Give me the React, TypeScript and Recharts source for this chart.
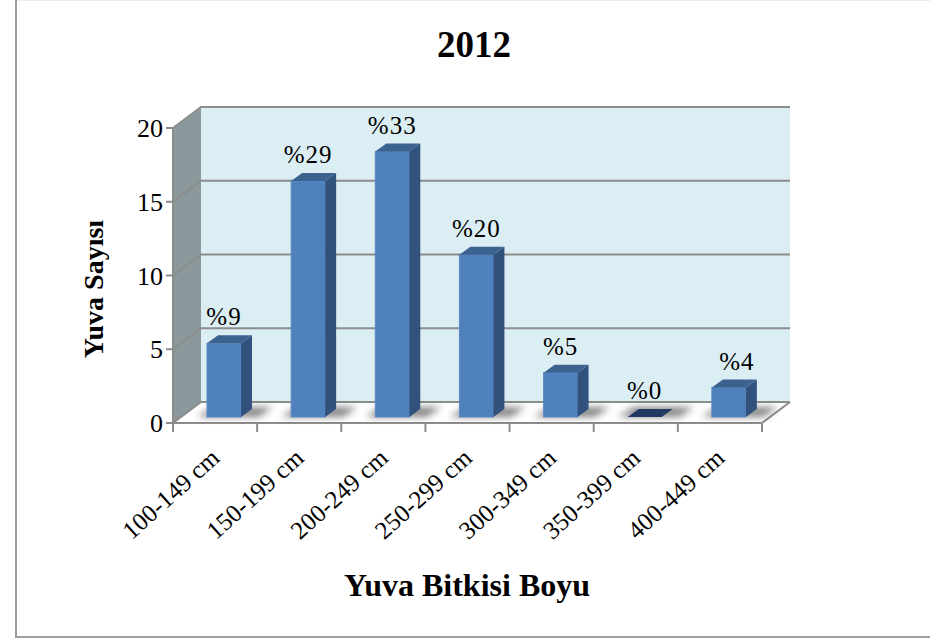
import {
  Bar,
  BarChart,
  CartesianGrid,
  LabelList,
  XAxis,
  YAxis,
  usePlotArea,
} from "recharts";

const categories = [
  "100-149 cm",
  "150-199 cm",
  "200-249 cm",
  "250-299 cm",
  "300-349 cm",
  "350-399 cm",
  "400-449 cm",
];
const counts = [5, 16, 18, 11, 3, 0, 2];
const percentLabels = ["%9", "%29", "%33", "%20", "%5", "%0", "%4"];
const yTicks = [0, 5, 10, 15, 20];

const data = categories.map((name, i) => ({
  name,
  count: counts[i],
  label: percentLabels[i],
}));

const FONT = "'Liberation Serif', 'Times New Roman', serif";
// kutunun derinligi: on duzlemden arka duvara kayma
const WALL_DX = 28;
const WALL_DY = -21;
const GRID = "#8c8c8c";
const MARGIN = { top: 128, right: 168, bottom: 217, left: 173 };

function Walls() {
  const plot = usePlotArea();
  if (!plot) return null;
  const { x, y, width, height } = plot;
  const bottom = y + height;
  const right = x + width;
  const pts = (p: number[][]) => p.map((q) => q.join(",")).join(" ");
  return (
    <g>
      <defs>
        <filter id="floorShadow" x="-40%" y="-100%" width="180%" height="300%">
          <feGaussianBlur stdDeviation="3.5" />
        </filter>
      </defs>
      <polygon
        points={pts([
          [x + WALL_DX, y + WALL_DY],
          [right + WALL_DX, y + WALL_DY],
          [right + WALL_DX, bottom + WALL_DY],
          [x + WALL_DX, bottom + WALL_DY],
        ])}
        fill="#dbeef4"
      />
      <polygon
        points={pts([
          [x, y],
          [x + WALL_DX, y + WALL_DY],
          [x + WALL_DX, bottom + WALL_DY],
          [x, bottom],
        ])}
        fill="#8c999c"
      />
      <polygon
        points={pts([
          [x, bottom],
          [x + WALL_DX, bottom + WALL_DY],
          [right + WALL_DX, bottom + WALL_DY],
          [right, bottom],
        ])}
        fill="#ffffff"
      />
      <polyline
        points={pts([
          [x, bottom],
          [right, bottom],
          [right + WALL_DX, bottom + WALL_DY],
        ])}
        fill="none"
        stroke={GRID}
        strokeWidth={2}
      />
    </g>
  );
}

function gridLine(props: any) {
  const { x1, y1, x2, y2, key } = props;
  return (
    <polyline
      key={key ?? y1}
      points={`${x1},${y1} ${x1 + WALL_DX},${y1 + WALL_DY} ${x2 + WALL_DX},${y2 + WALL_DY}`}
      fill="none"
      stroke={GRID}
      strokeWidth={2}
    />
  );
}

function Bar3D(props: any) {
  const { x, y, width, height } = props;
  // cubuklar on duzlemden biraz iceride duruyor
  const fx = x + 9;
  const base = y + height - 6;
  const top = base - height;
  const r = fx + width;
  const dx = 11;
  const dy = -8;
  return (
    <g>
      <polygon
        points={`${fx - 10},${base} ${r + 18},${base} ${r + 32},${base - 10} ${fx + 6},${base - 10}`}
        fill="#555"
        opacity={0.7}
        filter="url(#floorShadow)"
      />
      {height > 0 && (
        <>
          <rect x={fx} y={top} width={width} height={height} fill="#4f81bd" stroke="#5b8ac4" strokeWidth={1} />
          <polygon
            points={`${r},${top} ${r + dx},${top + dy} ${r + dx},${base + dy} ${r},${base}`}
            fill="#30527c"
          />
        </>
      )}
      <polygon
        points={`${fx},${top} ${fx + dx},${top + dy} ${r + dx},${top + dy} ${r},${top}`}
        fill={height > 0 ? "#3c6390" : "#1f3a63"}
      />
    </g>
  );
}

function PercentLabel(props: any) {
  const { x, y, width, value, index } = props;
  // son etiket orijinalde elle saga kaydirilmis
  const nudge = index === percentLabels.length - 1 ? 8 : 0;
  return (
    <text
      x={x + width / 2 + 9 + nudge}
      y={y - 24}
      textAnchor="middle"
      fontFamily={FONT}
      fontSize={25}
      letterSpacing={1}
      fill="#000"
    >
      {value}
    </text>
  );
}

function SlantTick(props: any) {
  const { x, y, payload, width, visibleTicksCount, index } = props;
  // tick cizgileri kategori sinirlarinda, etiket ortada
  const band = width / visibleTicksCount;
  const edges = index === visibleTicksCount - 1 ? [x - band / 2, x + band / 2] : [x - band / 2];
  const tx = x + 6;
  const ty = y + 28;
  return (
    <g>
      {edges.map((ex) => (
        <line key={ex} x1={ex} y1={y - 8} x2={ex} y2={y} stroke={GRID} strokeWidth={2} />
      ))}
      <text
        x={tx}
        y={ty}
        textAnchor="end"
        fontFamily={FONT}
        fontSize={25}
        fill="#000"
        transform={`rotate(-42 ${tx} ${ty})`}
      >
        {payload.value}
      </text>
    </g>
  );
}

export default function App() {
  return (
    <div style={{ position: "absolute", left: 0, top: 0, width: 930, height: 640, background: "#fff" }}>
      <div style={{ position: "absolute", left: 16, top: 0, width: 914, height: 1, background: "#ececec" }} />
      <div style={{ position: "absolute", left: 15, top: 0, width: 2, height: 638, background: "#9c9c9c" }} />
      <div style={{ position: "absolute", left: 15, top: 636, width: 915, height: 2, background: "#9c9c9c" }} />
      <div style={{ position: "absolute", left: 0, top: 0 }}>
        <BarChart width={930} height={640} data={data} margin={MARGIN}>
          <Walls />
        </BarChart>
      </div>
      <div style={{ position: "absolute", left: 0, top: 0 }}>
        <BarChart
          width={930}
          height={640}
          data={data}
          margin={{ top: 128, right: 168, bottom: 0, left: 0 }}
          barSize={34}
        >
          <CartesianGrid horizontal={gridLine} vertical={false} syncWithTicks />
          <XAxis
            dataKey="name"
            interval={0}
            height={217}
            tick={<SlantTick />}
            tickLine={false}
            tickSize={7}
            axisLine={false}
          />
          <YAxis
            domain={[0, 20]}
            ticks={yTicks}
            width={173}
            tick={{ fontFamily: FONT, fontSize: 26, fill: "#000" }}
            tickSize={7}
            tickMargin={3}
            tickLine={{ stroke: GRID, strokeWidth: 2 }}
            axisLine={{ stroke: GRID, strokeWidth: 2 }}
          />
          <Bar dataKey="count" shape={<Bar3D />} isAnimationActive={false}>
            <LabelList dataKey="label" content={<PercentLabel />} />
          </Bar>
        </BarChart>
      </div>
      <div
        style={{
          position: "absolute",
          left: 0,
          top: 0,
          width: 930,
          height: 640,
          pointerEvents: "none",
          fontFamily: FONT,
          fontWeight: "bold",
          color: "#000",
        }}
      >
        <div style={{ position: "absolute", left: 374, top: 24, width: 200, textAlign: "center", fontSize: 37, lineHeight: "42px" }}>
          2012
        </div>
        <div style={{ position: "absolute", left: 317, top: 568, width: 300, textAlign: "center", fontSize: 32, lineHeight: "34px" }}>
          Yuva Bitkisi Boyu
        </div>
        <div
          style={{
            position: "absolute",
            left: 94,
            top: 289,
            width: 0,
            height: 0,
            whiteSpace: "nowrap",
            fontSize: 28,
            lineHeight: "0px",
            transform: "rotate(-90deg)",
            display: "flex",
            justifyContent: "center",
          }}
        >
          Yuva Sayısı
        </div>
      </div>
    </div>
  );
}
